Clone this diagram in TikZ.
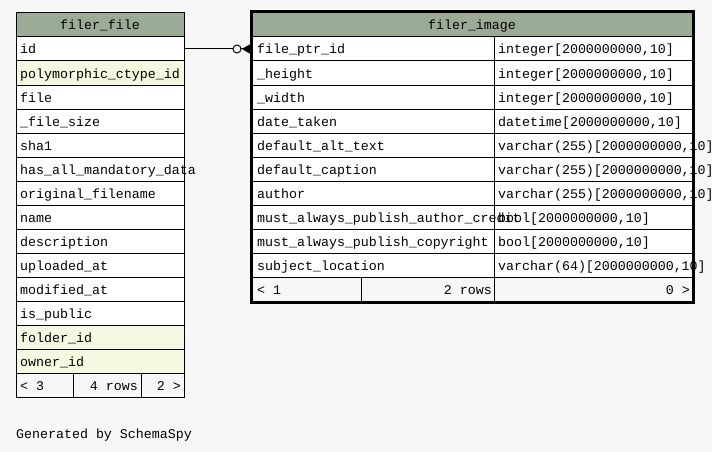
\documentclass[tikz,border=0pt]{standalone}
\usepackage{fontspec}
\setmonofont{Liberation Mono}
\usetikzlibrary{calc}
\definecolor{pagebg}{HTML}{F7F7F7}
\definecolor{headbg}{HTML}{9CAB96}
\definecolor{keybg}{HTML}{F5F7E0}
\tikzset{
  cell/.style={draw=black, line width=1pt},
  txt/.style={inner sep=0pt, font=\ttfamily\fontsize{13.3}{14}\selectfont, anchor=base west},
  txtr/.style={txt, anchor=base east},
  txtc/.style={txt, anchor=base},
}
\begin{document}
\begin{tikzpicture}[x=1pt,y=-1pt]
\fill[pagebg] (0,0) rectangle (712,452);
\useasboundingbox (0,0) rectangle (712,452);

% ---- filer_file table ----
\fill[headbg] (16,13) rectangle (184,37);
\draw[cell] (16,13) rectangle (184,37);
\node[txtc] (ffhead) at (100,30) {filer\_file};
\foreach \name/\bg [count=\i from 0] in {
  id/white, polymorphic\_ctype\_id/keybg, file/white, \_file\_size/white,
  sha1/white, has\_all\_mandatory\_data/white, original\_filename/white,
  name/white, description/white, uploaded\_at/white, modified\_at/white,
  is\_public/white, folder\_id/keybg, owner\_id/keybg} {
  \pgfmathsetmacro{\ytop}{37+24*\i}
  \fill[\bg] (16,\ytop) rectangle (184,\ytop+24);
  \draw[cell] (16,\ytop) rectangle (184,\ytop+24);
  \node[txt] (ff\i) at (20,\ytop+17) {\name};
}
\draw[cell] (16,373) rectangle (184,397);
\draw[cell] (73,373) -- (73,397);
\draw[cell] (141,373) -- (141,397);
\node[txt] (fffootl) at (20,390) {< 3};
\node[txtr] (fffootm) at (138,390) {4 rows};
\node[txtr] (fffootr) at (181,390) {2 >};

% ---- filer_image table ----
\fill[headbg] (252,13) rectangle (693,37);
\draw[cell] (252,13) rectangle (693,37);
\node[txtc] (fihead) at (472,30) {filer\_image};
\foreach \name/\type [count=\i from 0] in {
  file\_ptr\_id/{integer[2000000000,10]},
  \_height/{integer[2000000000,10]},
  \_width/{integer[2000000000,10]},
  date\_taken/{datetime[2000000000,10]},
  default\_alt\_text/{varchar(255)[2000000000,10]},
  default\_caption/{varchar(255)[2000000000,10]},
  author/{varchar(255)[2000000000,10]},
  must\_always\_publish\_author\_credit/{bool[2000000000,10]},
  must\_always\_publish\_copyright/{bool[2000000000,10]},
  subject\_location/{varchar(64)[2000000000,10]}} {
  \pgfmathsetmacro{\ytop}{37+24*\i}
  \fill[white] (252,\ytop) rectangle (693,\ytop+24);
  \draw[cell] (252,\ytop) rectangle (693,\ytop+24);
  \draw[cell] (494,\ytop) -- (494,\ytop+24);
  \node[txt] (fin\i) at (257,\ytop+17) {\name};
  \node[txt] (fit\i) at (498,\ytop+17) {\type};
}
\draw[cell] (252,277) rectangle (693,301);
\draw[cell] (361,277) -- (361,301);
\draw[cell] (494,277) -- (494,301);
\node[txt] (fifootl) at (257,294) {< 1};
\node[txtr] (fifootm) at (492,294) {2 rows};
\node[txtr] (fifootr) at (690,294) {0 >};
% heavy outline of the focused table, drawn over the overflowing text
\draw[black, line width=3pt] (251.5,11.5) rectangle (693.5,302.5);

% ---- relationship: filer_file.id -> filer_image.file_ptr_id ----
\coordinate (relsrc) at (184,49);
\coordinate (reldst) at (250,49);
\coordinate (circ) at (237,49);
\coordinate (foot) at (243,49);
\draw[line width=1pt] (relsrc) -- ($(circ)+(-4,0)$);
\draw[line width=1pt, fill=white] (circ) circle (4);
\draw[line width=1pt] ($(circ)+(4,0)$) -- (reldst);
\draw[line width=1.2pt] (foot) -- (250,45) (foot) -- (250,53) (foot) -- (reldst);
\fill (foot) -- (250,45.5) -- (250,52.5) -- cycle;

\node[txt] (credit) at (16,438) {Generated by SchemaSpy};
\end{tikzpicture}
\end{document}
